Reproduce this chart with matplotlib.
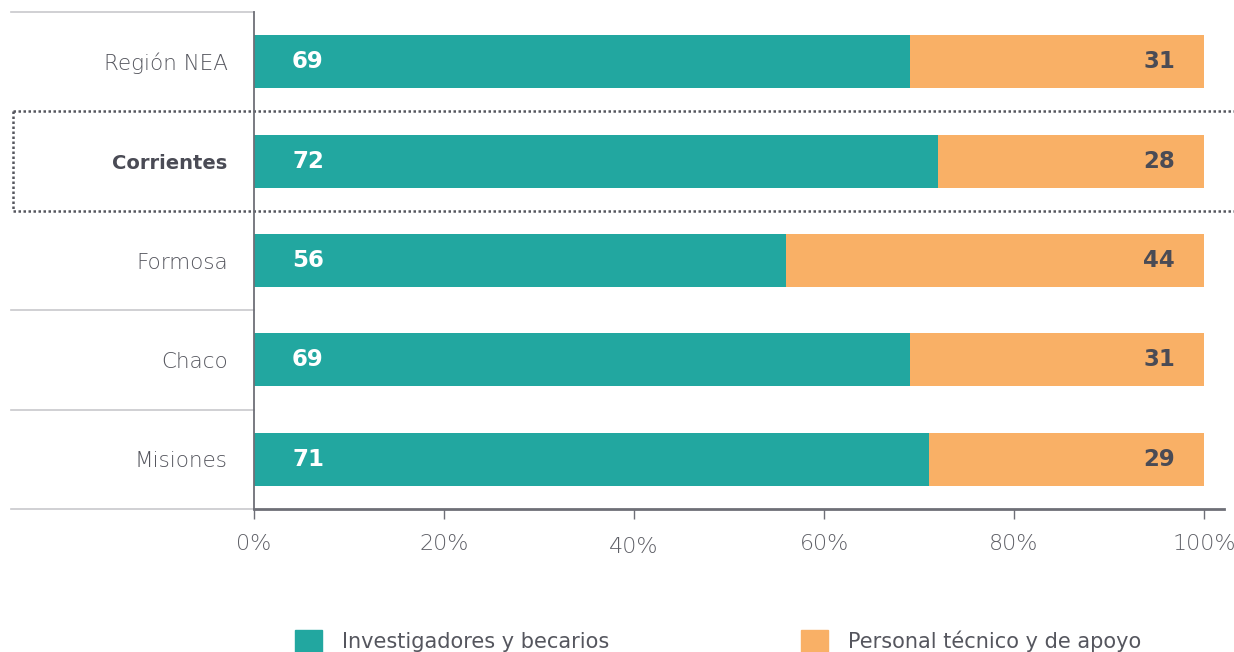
import matplotlib
matplotlib.use('Agg')
from matplotlib import pyplot as plt
from matplotlib.patches import Patch

plt.rcParams['font.family'] = ['DejaVu Sans']

categorias = ['Región NEA', 'Corrientes', 'Formosa', 'Chaco', 'Misiones']
investigadores = [69, 72, 56, 69, 71]
personal = [31, 28, 44, 31, 29]
ticks = [0, 20, 40, 60, 80, 100]
tick_labels = ['0%', '20%', '40%', '60%', '80%', '100%']
series = ['Investigadores y becarios', 'Personal técnico y de apoyo']

teal = '#22A7A0'
naranja = '#F9B066'
gris = '#4A4B55'

W, H = 1234, 652
fig = plt.figure(figsize=(W / 100, H / 100), dpi=100)
# axes: x 254..1224 px, y 12..509 px
ax = fig.add_axes([254 / W, 1 - 509 / H, 970 / W, 497 / H])

y = range(len(categorias))
ax.barh(y, investigadores, height=0.535, color=teal)
ax.barh(y, personal, left=investigadores, height=0.535, color=naranja)
ax.set_xlim(0, 100 * 970 / 950)
ax.set_ylim(4.5, -0.5)

for i, (a, b) in enumerate(zip(investigadores, personal)):
    ax.text(4.0, i, str(a), color='white', fontsize=16.5, fontweight='bold',
            va='center', ha='left')
    ax.text(95.3, i, str(b), color=gris, fontsize=16.5, fontweight='bold',
            va='center', ha='center')

# spines
for s in ['top', 'right']:
    ax.spines[s].set_visible(False)
ax.spines['left'].set_color('#6E6F77')
ax.spines['bottom'].set_color('#6E6F77')
ax.spines['left'].set_linewidth(1.3)
ax.spines['bottom'].set_linewidth(2)

ax.set_xticks(ticks)
ax.set_xticklabels(tick_labels, fontsize=16, color='#5E5F66', fontweight='light')
ax.tick_params(axis='x', length=7, width=1, color='#6E6F77', pad=11)
ax.set_yticks(list(y))
ax.set_yticklabels(categorias, fontsize=15.5, color='#55565E', fontweight='light')
ax.tick_params(axis='y', length=0, pad=19)
lbl = ax.get_yticklabels()[1]
lbl.set_fontweight('bold')
lbl.set_color(gris)
lbl.set_fontsize(14)
ax.get_xticklabels()[2].set_y(-0.006)

# separator lines on the label side
x0 = (11 - 254) / 970
for yy in [-0.5, 2.5, 3.5, 4.5]:
    ax.axhline(yy, xmin=x0, xmax=0, color='#C8C8CC', lw=1.2, clip_on=False, zorder=0)

# dotted frame around Corrientes
xl = (13 - 254) / 970
xr = (1234 - 254) / 970
kw = dict(color='#55565E', lw=1.8, ls=(0, (1, 1)), clip_on=False)
ax.axhline(0.5, xmin=xl, xmax=xr, **kw)
ax.axhline(1.5, xmin=xl, xmax=xr, **kw)
ax.plot([xl, xl], [0.5, 1.5], transform=ax.get_yaxis_transform(), **kw)

handles = [Patch(color=teal), Patch(color=naranja)]
leg = fig.legend(handles, series, loc='center', bbox_to_anchor=(718 / W, 1 - 641 / H),
                 ncol=2, frameon=False, fontsize=15, handlelength=1.3, handleheight=1.3,
                 handletextpad=0.95, columnspacing=9.2)
for t in leg.get_texts():
    t.set_color('#55565E')

fig.savefig('out.png', dpi=100)
